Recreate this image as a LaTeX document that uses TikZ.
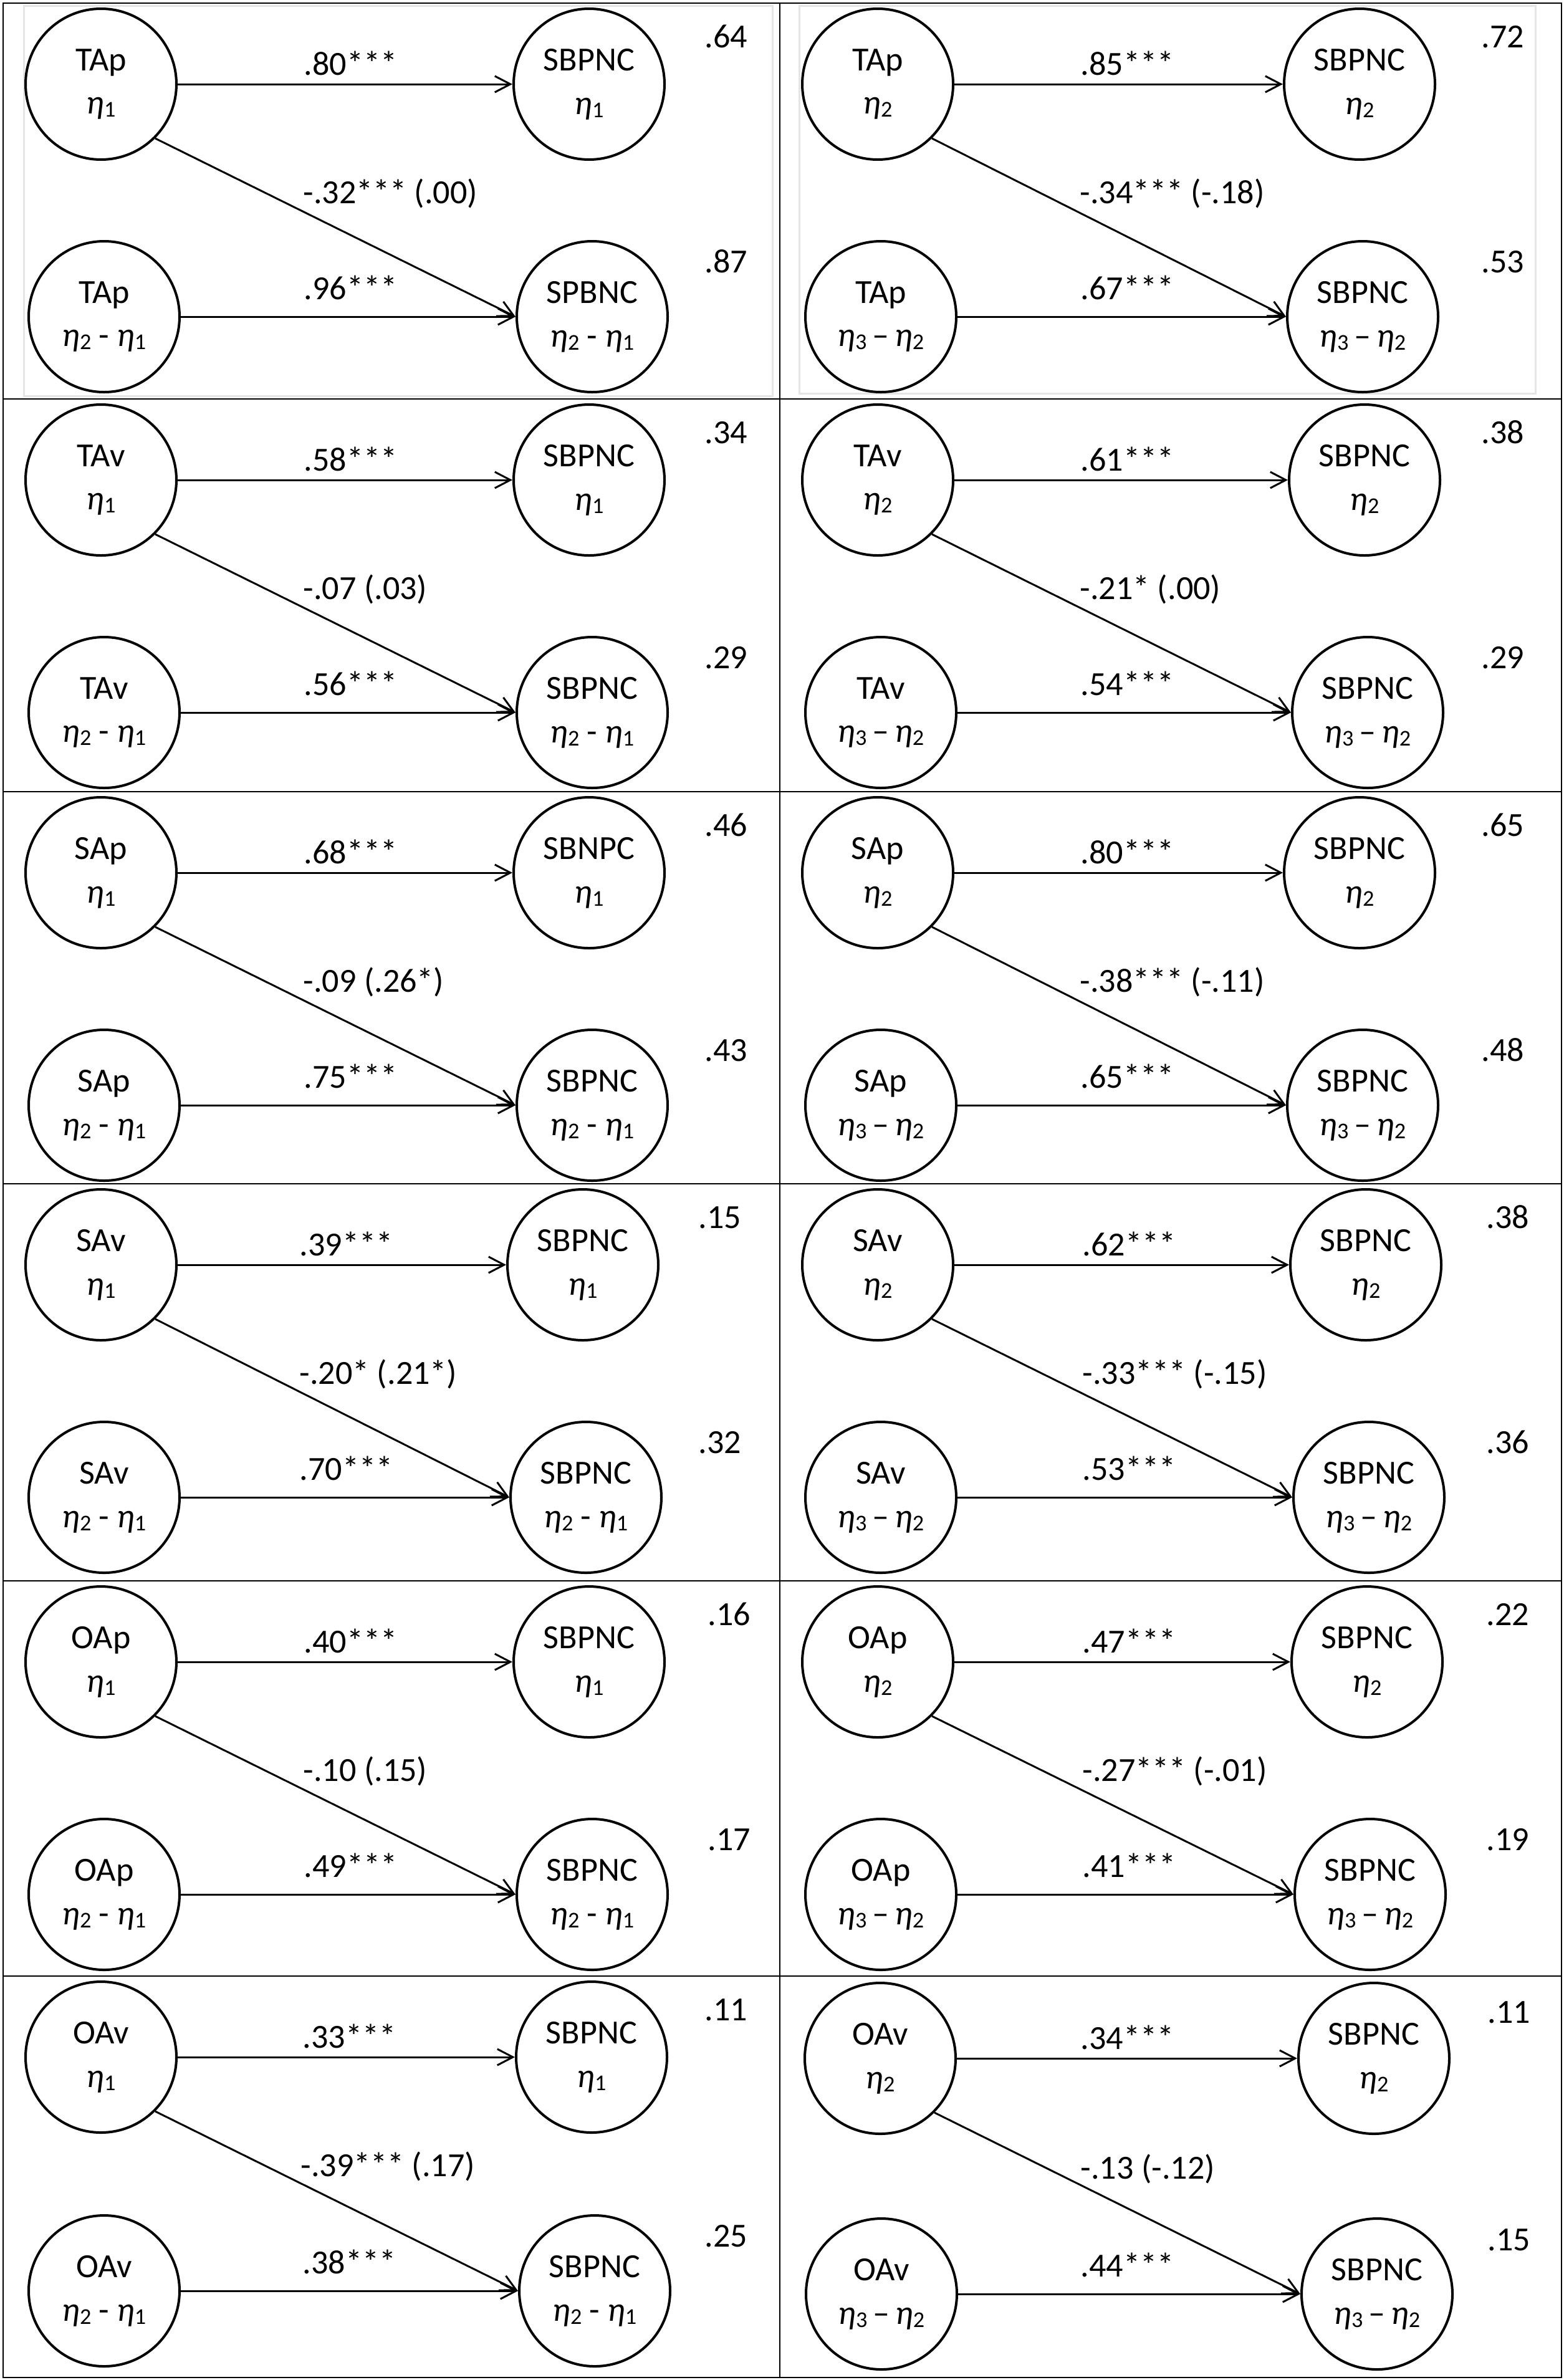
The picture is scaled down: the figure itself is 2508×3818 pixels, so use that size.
\documentclass[tikz,border=0pt]{standalone}
\usepackage{fontspec}
\setmainfont{Carlito}
\usepackage{tikz}
\usetikzlibrary{arrows.meta}
\tikzset{>={Straight Barb[length=2.5mm,width=2.6mm]}}
\tikzset{
  latent/.style={circle, draw, line width=0.4mm, minimum size=24.2mm, inner sep=0pt,
    align=center, execute at begin node={\rule{0pt}{6.2mm}}},
  effect/.style={->, line width=0.3mm},
  coef/.style={anchor=base west, inner sep=0pt},
  rsq/.style={anchor=base west, inner sep=0pt},
  tablerule/.style={line width=0.28mm},
  every node/.style={font=\fontsize{15.4}{19.9}\selectfont}
}
\newcommand{\et}[1]{\textit{η}\raisebox{-0.5mm}{\fontsize{10.3}{12}\selectfont #1}}

\begin{document}
\begin{tikzpicture}[x=0.1mm, y=-0.1mm]
    \useasboundingbox (0,0) rectangle (2508,3818);
    % table
    \draw[gray!20, line width=0.3mm] (38,9) rectangle (1239,635);
    \draw[gray!20, line width=0.3mm] (1282,9) rectangle (2463,631);
    \draw[tablerule] (5,5) rectangle (2505,3814);
    \draw[tablerule] (1251,5) -- (1251,3814);
    \draw[tablerule] (5,640) -- (2505,640);
    \draw[tablerule] (5,1270) -- (2505,1270);
    \draw[tablerule] (5,1899) -- (2505,1899);
    \draw[tablerule] (5,2536) -- (2505,2536);
    \draw[tablerule] (5,3170) -- (2505,3170);

    % TAp
    \begin{scope}[shift={(0,5)}]
    \node[latent] (pa1) at (162,130) {TAp\\\et{1}};
    \node[latent] (oa1) at (945,130) {SBPNC\\\et{1}};
    \node[latent] (pd1) at (167,503) {TAp\\\et{2} - \et{1}};
    \node[latent] (od1) at (950,503) {SPBNC\\\et{2} - \et{1}};
    \draw[effect] (pa1) -- (oa1);
    \draw[effect] (pd1) -- (od1);
    \draw[effect] (pa1.south east) -- (od1.west);
    \node[coef] (ca1) at (487,115) {.80***};
    \node[coef] (cx1) at (486,321) {-.32*** (.00)};
    \node[coef] (cd1) at (487,475) {.96***};
    \node[rsq] (ra1) at (1130,71) {.64};
    \node[rsq] (rd1) at (1130,432) {.87};
    \end{scope}
    \begin{scope}[shift={(1246,5)}]
    \node[latent] (pa2) at (162,130) {TAp\\\et{2}};
    \node[latent] (oa2) at (935,130) {SBPNC\\\et{2}};
    \node[latent] (pd2) at (167,503) {TAp\\\et{3}\,–\,\et{2}};
    \node[latent] (od2) at (940,503) {SBPNC\\\et{3}\,–\,\et{2}};
    \draw[effect] (pa2) -- (oa2);
    \draw[effect] (pd2) -- (od2);
    \draw[effect] (pa2.south east) -- (od2.west);
    \node[coef] (ca2) at (487,115) {.85***};
    \node[coef] (cx2) at (486,321) {-.34*** (-.18)};
    \node[coef] (cd2) at (487,475) {.67***};
    \node[rsq] (ra2) at (1130,71) {.72};
    \node[rsq] (rd2) at (1130,432) {.53};
    \end{scope}

    % TAv
    \begin{scope}[shift={(0,640)}]
    \node[latent] (pa3) at (162,130) {TAv\\\et{1}};
    \node[latent] (oa3) at (945,130) {SBPNC\\\et{1}};
    \node[latent] (pd3) at (167,503) {TAv\\\et{2} - \et{1}};
    \node[latent] (od3) at (950,503) {SBPNC\\\et{2} - \et{1}};
    \draw[effect] (pa3) -- (oa3);
    \draw[effect] (pd3) -- (od3);
    \draw[effect] (pa3.south east) -- (od3.west);
    \node[coef] (ca3) at (487,115) {.58***};
    \node[coef] (cx3) at (486,321) {-.07 (.03)};
    \node[coef] (cd3) at (487,475) {.56***};
    \node[rsq] (ra3) at (1130,71) {.34};
    \node[rsq] (rd3) at (1130,432) {.29};
    \end{scope}
    \begin{scope}[shift={(1246,640)}]
    \node[latent] (pa4) at (162,130) {TAv\\\et{2}};
    \node[latent] (oa4) at (943,130) {SBPNC\\\et{2}};
    \node[latent] (pd4) at (167,503) {TAv\\\et{3}\,–\,\et{2}};
    \node[latent] (od4) at (948,503) {SBPNC\\\et{3}\,–\,\et{2}};
    \draw[effect] (pa4) -- (oa4);
    \draw[effect] (pd4) -- (od4);
    \draw[effect] (pa4.south east) -- (od4.west);
    \node[coef] (ca4) at (487,115) {.61***};
    \node[coef] (cx4) at (486,321) {-.21* (.00)};
    \node[coef] (cd4) at (487,475) {.54***};
    \node[rsq] (ra4) at (1130,71) {.38};
    \node[rsq] (rd4) at (1130,432) {.29};
    \end{scope}

    % SAp
    \begin{scope}[shift={(0,1270)}]
    \node[latent] (pa5) at (162,130) {SAp\\\et{1}};
    \node[latent] (oa5) at (945,130) {SBNPC\\\et{1}};
    \node[latent] (pd5) at (167,503) {SAp\\\et{2} - \et{1}};
    \node[latent] (od5) at (950,503) {SBPNC\\\et{2} - \et{1}};
    \draw[effect] (pa5) -- (oa5);
    \draw[effect] (pd5) -- (od5);
    \draw[effect] (pa5.south east) -- (od5.west);
    \node[coef] (ca5) at (487,115) {.68***};
    \node[coef] (cx5) at (486,321) {-.09 (.26*)};
    \node[coef] (cd5) at (487,475) {.75***};
    \node[rsq] (ra5) at (1130,71) {.46};
    \node[rsq] (rd5) at (1130,432) {.43};
    \end{scope}
    \begin{scope}[shift={(1246,1270)}]
    \node[latent] (pa6) at (162,130) {SAp\\\et{2}};
    \node[latent] (oa6) at (935,130) {SBPNC\\\et{2}};
    \node[latent] (pd6) at (167,503) {SAp\\\et{3}\,–\,\et{2}};
    \node[latent] (od6) at (940,503) {SBPNC\\\et{3}\,–\,\et{2}};
    \draw[effect] (pa6) -- (oa6);
    \draw[effect] (pd6) -- (od6);
    \draw[effect] (pa6.south east) -- (od6.west);
    \node[coef] (ca6) at (487,115) {.80***};
    \node[coef] (cx6) at (486,321) {-.38*** (-.11)};
    \node[coef] (cd6) at (487,475) {.65***};
    \node[rsq] (ra6) at (1130,71) {.65};
    \node[rsq] (rd6) at (1130,432) {.48};
    \end{scope}

    % SAv
    \begin{scope}[shift={(0,1899)}]
    \node[latent] (pa7) at (162,130) {SAv\\\et{1}};
    \node[latent] (oa7) at (935,130) {SBPNC\\\et{1}};
    \node[latent] (pd7) at (167,503) {SAv\\\et{2} - \et{1}};
    \node[latent] (od7) at (940,503) {SBPNC\\\et{2} - \et{1}};
    \draw[effect] (pa7) -- (oa7);
    \draw[effect] (pd7) -- (od7);
    \draw[effect] (pa7.south east) -- (od7.west);
    \node[coef] (ca7) at (480,115) {.39***};
    \node[coef] (cx7) at (480,321) {-.20* (.21*)};
    \node[coef] (cd7) at (480,475) {.70***};
    \node[rsq] (ra7) at (1120,71) {.15};
    \node[rsq] (rd7) at (1120,432) {.32};
    \end{scope}
    \begin{scope}[shift={(1246,1899)}]
    \node[latent] (pa8) at (162,130) {SAv\\\et{2}};
    \node[latent] (oa8) at (945,130) {SBPNC\\\et{2}};
    \node[latent] (pd8) at (167,503) {SAv\\\et{3}\,–\,\et{2}};
    \node[latent] (od8) at (950,503) {SBPNC\\\et{3}\,–\,\et{2}};
    \draw[effect] (pa8) -- (oa8);
    \draw[effect] (pd8) -- (od8);
    \draw[effect] (pa8.south east) -- (od8.west);
    \node[coef] (ca8) at (490,115) {.62***};
    \node[coef] (cx8) at (490,321) {-.33*** (-.15)};
    \node[coef] (cd8) at (490,475) {.53***};
    \node[rsq] (ra8) at (1138,71) {.38};
    \node[rsq] (rd8) at (1138,432) {.36};
    \end{scope}

    % OAp
    \begin{scope}[shift={(0,2536)}]
    \node[latent] (pa9) at (162,130) {OAp\\\et{1}};
    \node[latent] (oa9) at (945,130) {SBPNC\\\et{1}};
    \node[latent] (pd9) at (167,503) {OAp\\\et{2} - \et{1}};
    \node[latent] (od9) at (950,503) {SBPNC\\\et{2} - \et{1}};
    \draw[effect] (pa9) -- (oa9);
    \draw[effect] (pd9) -- (od9);
    \draw[effect] (pa9.south east) -- (od9.west);
    \node[coef] (ca9) at (487,115) {.40***};
    \node[coef] (cx9) at (486,321) {-.10 (.15)};
    \node[coef] (cd9) at (487,475) {.49***};
    \node[rsq] (ra9) at (1135,71) {.16};
    \node[rsq] (rd9) at (1135,432) {.17};
    \end{scope}
    \begin{scope}[shift={(1246,2536)}]
    \node[latent] (pa10) at (162,130) {OAp\\\et{2}};
    \node[latent] (oa10) at (947,130) {SBPNC\\\et{2}};
    \node[latent] (pd10) at (167,503) {OAp\\\et{3}\,–\,\et{2}};
    \node[latent] (od10) at (952,503) {SBPNC\\\et{3}\,–\,\et{2}};
    \draw[effect] (pa10) -- (oa10);
    \draw[effect] (pd10) -- (od10);
    \draw[effect] (pa10.south east) -- (od10.west);
    \node[coef] (ca10) at (490,115) {.47***};
    \node[coef] (cx10) at (490,321) {-.27*** (-.01)};
    \node[coef] (cd10) at (490,475) {.41***};
    \node[rsq] (ra10) at (1138,71) {.22};
    \node[rsq] (rd10) at (1138,432) {.19};
    \end{scope}

    % OAv
    \begin{scope}[shift={(0,3170)}]
    \node[latent] (pa11) at (162,130) {OAv\\\et{1}};
    \node[latent] (oa11) at (949,130) {SBPNC\\\et{1}};
    \node[latent] (pd11) at (167,505) {OAv\\\et{2} - \et{1}};
    \node[latent] (od11) at (954,505) {SBPNC\\\et{2} - \et{1}};
    \draw[effect] (pa11) -- (oa11);
    \draw[effect] (pd11) -- (od11);
    \draw[effect] (pa11.south east) -- (od11.west);
    \node[coef] (ca11) at (485,115) {.33***};
    \node[coef] (cx11) at (482,321) {-.39*** (.17)};
    \node[coef] (cd11) at (485,477) {.38***};
    \node[rsq] (ra11) at (1130,71) {.11};
    \node[rsq] (rd11) at (1130,434) {.25};
    \end{scope}
    \begin{scope}[shift={(1246,3170)}]
    \node[latent] (pa12) at (166,132) {OAv\\\et{2}};
    \node[latent] (oa12) at (958,132) {SBPNC\\\et{2}};
    \node[latent] (pd12) at (168,510) {OAv\\\et{3}\,–\,\et{2}};
    \node[latent] (od12) at (963,510) {SBPNC\\\et{3}\,–\,\et{2}};
    \draw[effect] (pa12) -- (oa12);
    \draw[effect] (pd12) -- (od12);
    \draw[effect] (pa12.south east) -- (od12.west);
    \node[coef] (ca12) at (487,117) {.34***};
    \node[coef] (cx12) at (487,325) {-.13 (-.12)};
    \node[coef] (cd12) at (487,482) {.44***};
    \node[rsq] (ra12) at (1140,75) {.11};
    \node[rsq] (rd12) at (1140,440) {.15};
    \end{scope}
\end{tikzpicture}
\end{document}
